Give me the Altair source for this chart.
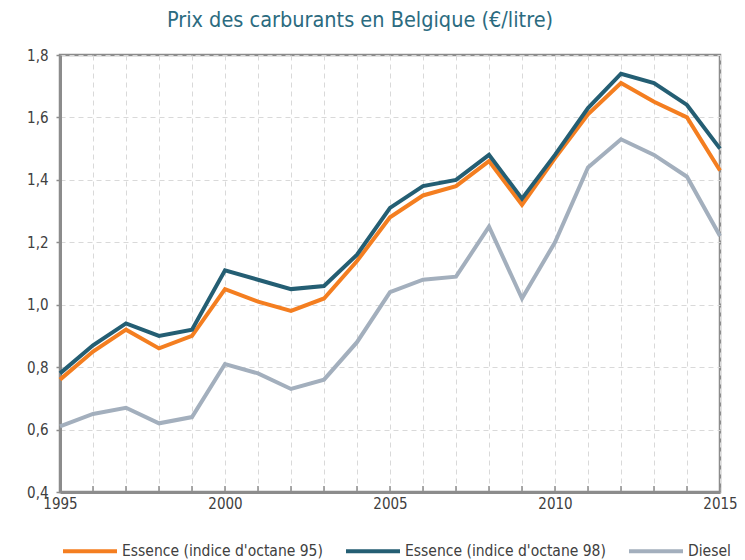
import altair as alt
import pandas as pd

years = list(range(1995, 2016))
essence95 = [0.76, 0.85, 0.92, 0.86, 0.90, 1.05, 1.01, 0.98, 1.02, 1.14, 1.28,
             1.35, 1.38, 1.46, 1.32, 1.47, 1.61, 1.71, 1.65, 1.60, 1.43]
essence98 = [0.78, 0.87, 0.94, 0.90, 0.92, 1.11, 1.08, 1.05, 1.06, 1.16, 1.31,
             1.38, 1.40, 1.48, 1.34, 1.48, 1.63, 1.74, 1.71, 1.64, 1.50]
diesel = [0.61, 0.65, 0.67, 0.62, 0.64, 0.81, 0.78, 0.73, 0.76, 0.88, 1.04,
          1.08, 1.09, 1.25, 1.02, 1.20, 1.44, 1.53, 1.48, 1.41, 1.22]
series_names = ["Essence (indice d'octane 95)", "Essence (indice d'octane 98)", "Diesel"]
colors = ["#F47E20", "#245E73", "#A3AFBD"]
y_ticks = [0.4, 0.6, 0.8, 1.0, 1.2, 1.4, 1.6, 1.8]

rows = []
for name, vals in zip(series_names, [essence95, essence98, diesel]):
    for yr, v in zip(years, vals):
        rows.append({"Année": yr, "Prix": v, "Carburant": name})
df = pd.DataFrame(rows)
df_years = pd.DataFrame({"Année": years})

FONT = "DejaVu Sans Condensed, Liberation Sans Narrow, Open Sans, sans-serif"
W, H = 660, 437
GRID = "#d9d9d9"
AXC = "#8c8c8c"
TXT = "#404040"

xscale = alt.Scale(domain=[1995, 2015], nice=False, zero=False)
x_axis = alt.Axis(values=years, format="d",
                  labelExpr="datum.value % 5 == 0 ? datum.label : ''",
                  ticks=False, title=None, grid=True, gridDash=[5, 4],
                  gridColor=GRID, gridWidth=1, domainColor=AXC, domainWidth=3,
                  labelFontSize=15, labelColor=TXT, labelFont=FONT,
                  labelPadding=4, labelFlush=False, labelOverlap=False)

lines = alt.Chart(df).mark_line(strokeWidth=4).encode(
    x=alt.X("Année:Q", scale=xscale, axis=x_axis),
    y=alt.Y("Prix:Q", scale=alt.Scale(domain=[0.4, 1.8], nice=False, zero=False),
            axis=alt.Axis(values=y_ticks,
                          labelExpr="replace(format(datum.value, '.1f'), '.', ',')",
                          title=None, grid=True, gridDash=[5, 4], gridColor=GRID,
                          gridWidth=1, domainColor=AXC, domainWidth=3,
                          tickSize=4, tickColor=AXC, tickWidth=1.5,
                          labelFontSize=15, labelColor=TXT, labelFont=FONT,
                          labelPadding=8, labelFlush=False, labelOverlap=False)),
    color=alt.Color("Carburant:N",
                    scale=alt.Scale(domain=series_names, range=colors),
                    legend=alt.Legend(orient="none", legendX=1, legendY=467,
                                      direction="horizontal", columns=3,
                                      symbolType="stroke", symbolSize=2916,
                                      symbolStrokeWidth=4, labelFontSize=15.5,
                                      labelFont=FONT, labelColor=TXT,
                                      columnPadding=15, labelOffset=3,
                                      title=None, labelLimit=400)),
)

ticks = alt.Chart(df_years).mark_rule(color=AXC, strokeWidth=1.5).encode(
    x=alt.X("Année:Q", scale=xscale, axis=x_axis),
    y=alt.value(H - 6),
    y2=alt.value(H),
)

chart = alt.layer(lines, ticks).properties(
    width=W, height=H,
    title=alt.TitleParams(text="Prix des carburants en Belgique (€/litre)",
                          fontSize=21.5, font=FONT, color="#2B6B7F",
                          fontWeight="normal", anchor="middle", dx=-30, offset=17),
    padding={"left": 52, "top": 47, "right": 17, "bottom": 68},
    autosize="none",
).configure_view(stroke=AXC, strokeWidth=2.5).configure_axisX(labelOverlap=False)

chart.save("out.html", embed_options={"renderer": "svg", "actions": False})
